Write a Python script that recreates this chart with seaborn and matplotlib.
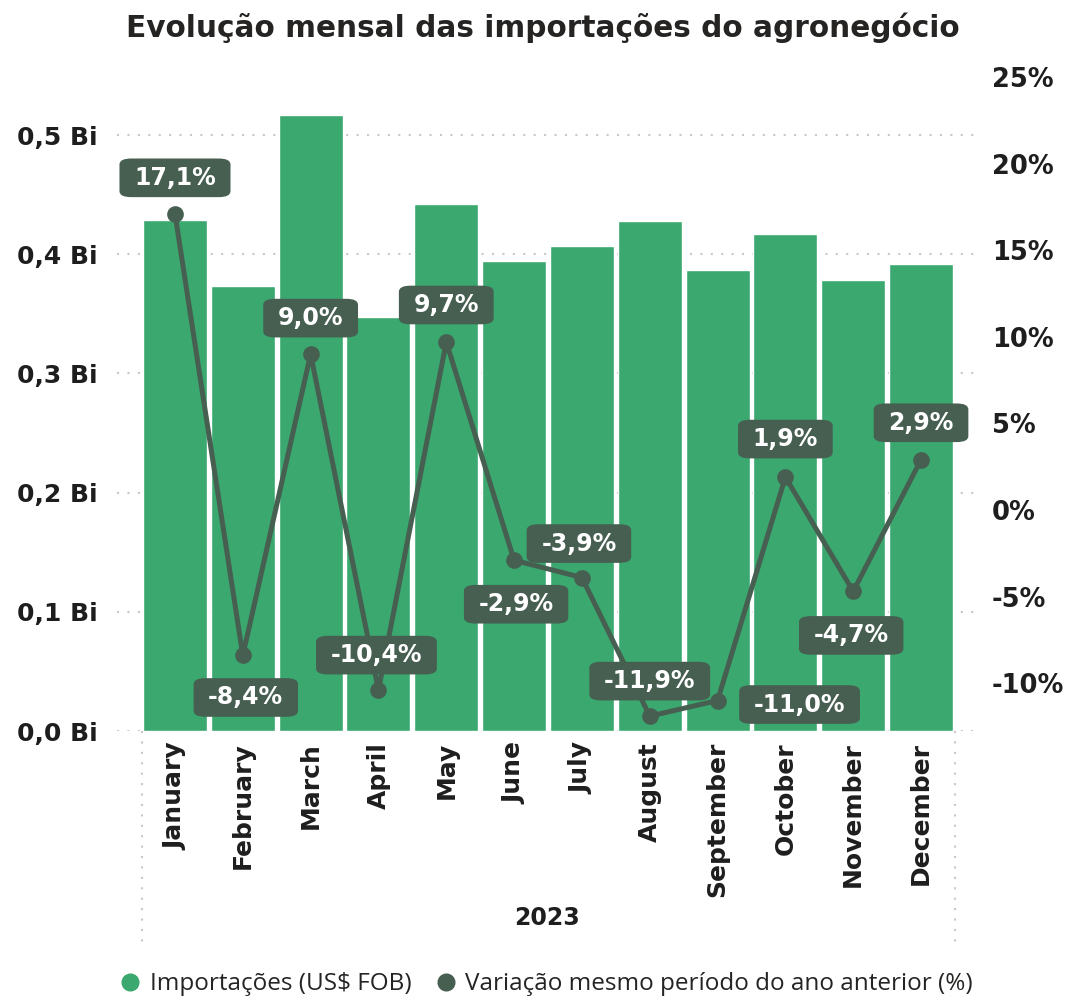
import numpy as np
import pandas as pd
import matplotlib.pyplot as plt
import seaborn as sns
from matplotlib.ticker import FuncFormatter, MultipleLocator
from matplotlib.lines import Line2D

months = ['January', 'February', 'March', 'April', 'May', 'June', 'July',
          'August', 'September', 'October', 'November', 'December']
importacoes = [0.429, 0.373, 0.517, 0.347, 0.442, 0.394, 0.407,
               0.428, 0.387, 0.417, 0.378, 0.392]  # US$ bi
variacao = [17.1, -8.4, 9.0, -10.4, 9.7, -2.9, -3.9, -11.9, -11.0, 1.9, -4.7, 2.9]
# label offsets (px) relative to each point
lbl_dx = [0, 3, 0, -2, 0, 2, -3, 0, 82, 0, -2, 0]
lbl_dy = [36, -42, 36, 35, 37, -44, 34, 35, -4, 38, -44, 37]

green = '#3aa86f'
dark = '#465f51'
txt = '#1e1e1e'

sns.set_style('white')
plt.rcParams['font.family'] = ['DejaVu Sans']

df = pd.DataFrame({'mes': months, 'imp': importacoes, 'var': variacao, 'pos': range(12)})

fig = plt.figure(figsize=(10.68, 9.97), dpi=100)
ax = fig.add_axes([117 / 1068, 1 - 731 / 997, (978 - 117) / 1068, (731 - 77) / 997])

sns.barplot(data=df, x='mes', y='imp', color=green, width=0.944, saturation=1,
            ax=ax, zorder=2)
ax.set_xlim(-0.855, 11.84)
ax.set_ylim(0, 0.5487)
ax.yaxis.set_major_locator(MultipleLocator(0.1))
ax.yaxis.set_major_formatter(FuncFormatter(lambda v, p: f'{v:.1f}'.replace('.', ',') + ' Bi'))
ax.grid(axis='y', color='#c8c8c8', linestyle=(0, (1, 4)), linewidth=1.5, zorder=0)
ax.set_axisbelow(True)
for s in ax.spines.values():
    s.set_visible(False)
ax.tick_params(axis='y', length=0, pad=14, labelsize=18, labelcolor=txt)
ax.tick_params(axis='x', length=0, pad=8, labelsize=18, rotation=90, labelcolor=txt)
for t in ax.get_xticklabels() + ax.get_yticklabels():
    t.set_fontweight('bold')
ax.set_ylabel('')
ax.set_xlabel('2023', fontsize=17, fontweight='bold', labelpad=6, color=txt)

ax2 = ax.twinx()
sns.lineplot(data=df, x='pos', y='var', ax=ax2, color=dark, linewidth=3.6,
             marker='o', markersize=12, markeredgewidth=0, zorder=3)
ax2.set_xlim(-0.855, 11.84)
ax2.set_ylim(-12.76, 25)
ax2.yaxis.set_major_locator(MultipleLocator(5))
ax2.yaxis.set_major_formatter(FuncFormatter(lambda v, p: f'{v:.0f}%'))
for s in ax2.spines.values():
    s.set_visible(False)
ax2.tick_params(axis='y', length=0, pad=10, labelsize=18.5, labelcolor=txt)
for t in ax2.get_yticklabels():
    t.set_fontweight('bold')
ax2.set_ylabel('')
ax2.set_xlabel('')

for i, v in enumerate(variacao):
    ax2.annotate(f'{v:.1f}'.replace('.', ',') + '%', xy=(i, v),
                 xytext=(lbl_dx[i] * 0.72, lbl_dy[i] * 0.72), textcoords='offset points',
                 ha='center', va='center', color='white', fontsize=17, fontweight='bold',
                 bbox=dict(boxstyle='round,pad=0.62,rounding_size=0.5', fc=dark, ec='none',
                           mutation_aspect=0.5),
                 zorder=5)

# dotted category separators below the axis
for xp in (142, 955):
    fig.add_artist(Line2D([xp / 1068, xp / 1068], [1 - 731 / 997, 1 - 945 / 997],
                          color='#c8c8c8', linestyle=(0, (1, 4)), linewidth=1.5))

fig.text(0.508, 0.972, 'Evolução mensal das importações do agronegócio',
         ha='center', va='center', fontsize=21.3, fontweight='bold', color='#252423')

handles = [Line2D([], [], marker='o', linestyle='', color=green, markersize=12),
           Line2D([], [], marker='o', linestyle='', color=dark, markersize=12)]
fig.legend(handles, ['Importações (US$ FOB)', 'Variação mesmo período do ano anterior (%)'],
           loc='center', bbox_to_anchor=(0.505, 0.013), ncol=2, frameon=False,
           handletextpad=-0.2, columnspacing=0.4,
           prop={'family': 'Open Sans', 'size': 17.5}, labelcolor='#252423')

fig.savefig('out.png', dpi=100)
